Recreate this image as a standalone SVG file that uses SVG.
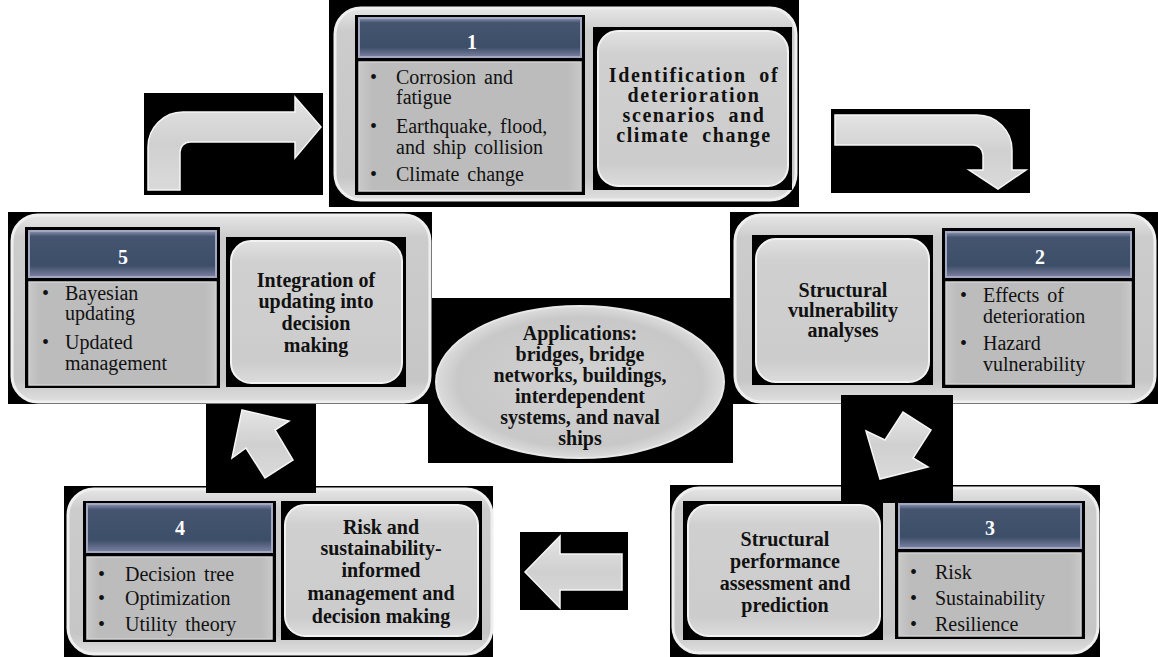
<svg xmlns="http://www.w3.org/2000/svg" width="1158" height="657" viewBox="0 0 1158 657">
<defs>
<linearGradient id="gOuter" x1="0" y1="0" x2="0" y2="1">
<stop offset="0" stop-color="#e6e6e6"/><stop offset="0.12" stop-color="#cccccc"/><stop offset="0.88" stop-color="#c6c6c6"/><stop offset="1" stop-color="#e0e0e0"/>
</linearGradient>
<linearGradient id="gInner" x1="0" y1="0" x2="0" y2="1">
<stop offset="0" stop-color="#e2e2e2"/><stop offset="0.15" stop-color="#d0d0d0"/><stop offset="0.85" stop-color="#cccccc"/><stop offset="1" stop-color="#dcdcdc"/>
</linearGradient>
<linearGradient id="gHdr" x1="0" y1="0" x2="0" y2="1">
<stop offset="0" stop-color="#8d93b0"/><stop offset="0.12" stop-color="#45556f"/><stop offset="0.75" stop-color="#3d4e68"/><stop offset="1" stop-color="#7c81a2"/>
</linearGradient>
<linearGradient id="gList" x1="0" y1="0" x2="1" y2="0">
<stop offset="0" stop-color="#c8c8c8"/><stop offset="0.06" stop-color="#bcbcbc"/><stop offset="0.94" stop-color="#bcbcbc"/><stop offset="1" stop-color="#c8c8c8"/>
</linearGradient>
<radialGradient id="gEll" cx="0.5" cy="0.5" r="0.5">
<stop offset="0" stop-color="#d2d2d2"/><stop offset="0.85" stop-color="#c8c8c8"/><stop offset="1" stop-color="#dcdcdc"/>
</radialGradient>
<linearGradient id="gArrow" x1="0" y1="0" x2="0" y2="1">
<stop offset="0" stop-color="#e4e4e4"/><stop offset="0.5" stop-color="#d0d0d0"/><stop offset="1" stop-color="#dadada"/>
</linearGradient>
</defs>
<style>
.bk{fill:#000}
.outer{fill:url(#gOuter);stroke:#efefef;stroke-width:3}
.frame{fill:#000}
.hdr{fill:url(#gHdr);stroke:#a2a7c2;stroke-width:2}
.list{fill:url(#gList);stroke:#d2d2d2;stroke-width:1.5}
.inner{fill:url(#gInner);stroke:#f2f2f2;stroke-width:2}
.num{font-family:"Liberation Serif",serif;font-weight:bold;font-size:20px;fill:#fff;text-anchor:middle}
.li{font-family:"Liberation Serif",serif;font-size:20px;fill:#111;word-spacing:3px}
.bu{font-family:"Liberation Serif",serif;font-size:20px;fill:#111}
.bd{font-family:"Liberation Serif",serif;font-weight:bold;font-size:20px;fill:#111;text-anchor:middle}
.bd1{font-family:"Liberation Serif",serif;font-weight:bold;font-size:20px;fill:#111;text-anchor:middle;letter-spacing:1.6px;word-spacing:6px}
.arrow{fill:url(#gArrow);stroke:#f6f6f6;stroke-width:1.5}
</style>
<rect width="1158" height="657" fill="#fff"/>

<g id="center">
<rect class="bk" x="428" y="298" width="305" height="165"/>
<ellipse cx="580" cy="382" rx="144" ry="76" fill="url(#gEll)" stroke="#e8e8e8" stroke-width="2"/>
<text class="bd" x="580" y="340">Applications:</text>
<text class="bd" x="580" y="361">bridges, bridge</text>
<text class="bd" x="580" y="382">networks, buildings,</text>
<text class="bd" x="580" y="403">interdependent</text>
<text class="bd" x="580" y="424">systems, and naval</text>
<text class="bd" x="580" y="445">ships</text>
</g>

<g id="node1">
<rect class="bk" x="329" y="0" width="470" height="207"/>
<rect class="outer" x="335" y="8" width="461" height="192" rx="26"/>
<rect class="frame" x="355" y="15" width="230" height="180"/>
<rect class="hdr" x="359" y="18" width="222" height="39"/>
<rect class="list" x="359" y="62" width="222" height="129"/>
<text class="num" x="472" y="49">1</text>
<text class="bu" x="370" y="84">•</text>
<text class="li" x="396" y="84">Corrosion and</text>
<text class="li" x="396" y="104">fatigue</text>
<text class="bu" x="370" y="133">•</text>
<text class="li" x="396" y="133">Earthquake, flood,</text>
<text class="li" x="396" y="154">and ship collision</text>
<text class="bu" x="370" y="181">•</text>
<text class="li" x="396" y="181">Climate change</text>
<rect class="frame" x="593" y="27" width="199" height="163"/>
<rect class="inner" x="598" y="31" width="190" height="155" rx="20"/>
<text class="bd1" x="694" y="82">Identification of</text>
<text class="bd1" x="694" y="102">deterioration</text>
<text class="bd1" x="694" y="122">scenarios and</text>
<text class="bd1" x="694" y="142">climate change</text>
</g>

<g id="node5">
<rect class="bk" x="8" y="212" width="424" height="192"/>
<rect class="outer" x="12" y="215" width="418" height="187" rx="26"/>
<rect class="frame" x="25" y="227" width="195" height="161"/>
<rect class="hdr" x="29" y="231" width="187" height="46"/>
<rect class="list" x="29" y="282" width="187" height="103"/>
<text class="num" x="123" y="264">5</text>
<text class="bu" x="42" y="300">•</text>
<text class="li" x="65" y="300">Bayesian</text>
<text class="li" x="65" y="320">updating</text>
<text class="bu" x="42" y="349">•</text>
<text class="li" x="65" y="349">Updated</text>
<text class="li" x="65" y="370">management</text>
<rect class="frame" x="226" y="237" width="180" height="150"/>
<rect class="inner" x="231" y="241" width="171" height="142" rx="20"/>
<text class="bd" x="316" y="287">Integration of</text>
<text class="bd" x="316" y="308">updating into</text>
<text class="bd" x="316" y="330">decision</text>
<text class="bd" x="316" y="352">making</text>
</g>

<g id="node2">
<rect class="bk" x="730" y="212" width="428" height="192"/>
<rect class="outer" x="735" y="215" width="420" height="187" rx="26"/>
<rect class="frame" x="752" y="235" width="181" height="150"/>
<rect class="inner" x="756" y="239" width="173" height="143" rx="20"/>
<text class="bd" x="843" y="297">Structural</text>
<text class="bd" x="843" y="317">vulnerability</text>
<text class="bd" x="843" y="337">analyses</text>
<rect class="frame" x="942" y="228" width="193" height="160"/>
<rect class="hdr" x="946" y="232" width="185" height="45"/>
<rect class="list" x="946" y="282" width="185" height="102"/>
<text class="num" x="1040" y="264">2</text>
<text class="bu" x="960" y="302">•</text>
<text class="li" x="983" y="302">Effects of</text>
<text class="li" x="983" y="323">deterioration</text>
<text class="bu" x="960" y="350">•</text>
<text class="li" x="983" y="350">Hazard</text>
<text class="li" x="983" y="371">vulnerability</text>
</g>

<g id="node4">
<rect class="bk" x="64" y="486" width="429" height="171"/>
<rect class="outer" x="68" y="489" width="424" height="165" rx="26"/>
<rect class="frame" x="83" y="501" width="193" height="141"/>
<rect class="hdr" x="87" y="504" width="185" height="48"/>
<rect class="list" x="87" y="557" width="185" height="82"/>
<text class="num" x="180" y="535">4</text>
<text class="bu" x="98" y="581">•</text>
<text class="li" x="125" y="581">Decision tree</text>
<text class="bu" x="98" y="605">•</text>
<text class="li" x="125" y="605">Optimization</text>
<text class="bu" x="98" y="631">•</text>
<text class="li" x="125" y="631">Utility theory</text>
<rect class="frame" x="281" y="501" width="201" height="139"/>
<rect class="inner" x="285" y="505" width="193" height="131" rx="20"/>
<text class="bd" x="381" y="534">Risk and</text>
<text class="bd" x="381" y="555">sustainability-</text>
<text class="bd" x="381" y="577">informed</text>
<text class="bd" x="381" y="600">management and</text>
<text class="bd" x="381" y="623">decision making</text>
</g>

<g id="node3">
<rect class="bk" x="670" y="485" width="430" height="172"/>
<rect class="outer" x="673" y="488" width="425" height="165" rx="26"/>
<rect class="frame" x="683" y="501" width="200" height="139"/>
<rect class="inner" x="688" y="505" width="192" height="131" rx="20"/>
<text class="bd" x="785" y="546">Structural</text>
<text class="bd" x="785" y="568">performance</text>
<text class="bd" x="785" y="590">assessment and</text>
<text class="bd" x="785" y="612">prediction</text>
<rect class="frame" x="895" y="501" width="190" height="138"/>
<rect class="hdr" x="899" y="504" width="182" height="44"/>
<rect class="list" x="899" y="553" width="182" height="83"/>
<text class="num" x="990" y="535">3</text>
<text class="bu" x="910" y="579">•</text>
<text class="li" x="935" y="579">Risk</text>
<text class="bu" x="910" y="605">•</text>
<text class="li" x="935" y="605">Sustainability</text>
<text class="bu" x="910" y="631">•</text>
<text class="li" x="935" y="631">Resilience</text>
</g>

<g id="connectors">
<rect class="bk" x="144" y="93" width="179" height="102"/>
<path class="arrow" d="M148,190 V147 A35,35 0 0 1 183,112 H295 V97 L321,127 L295,158 V142 H190 A10,10 0 0 0 180,152 V190 Z"/>
<rect class="bk" x="831" y="109" width="199" height="84"/>
<path class="arrow" d="M835,115 H977 A35,35 0 0 1 1012,150 V170 H1026 L998,189 L969,170 H983 V155 A10,10 0 0 0 973,145 H835 Z"/>
<rect class="bk" x="841" y="395" width="112" height="108"/>
<path class="arrow" d="M880,479 L866,431 L885,440 L903,412 L931,430 L913,458 L928,467 Z"/>
<rect class="bk" x="520" y="532" width="108" height="78"/>
<path class="arrow" d="M525,572 L560,536 L560,554 L622,554 L622,590 L560,590 L560,608 Z"/>
<rect class="bk" x="206" y="404" width="110" height="89"/>
<path class="arrow" d="M242,410 L289,421 L275,430 L293,460 L265,478 L246,448 L232,458 Z"/>
</g>
</svg>
